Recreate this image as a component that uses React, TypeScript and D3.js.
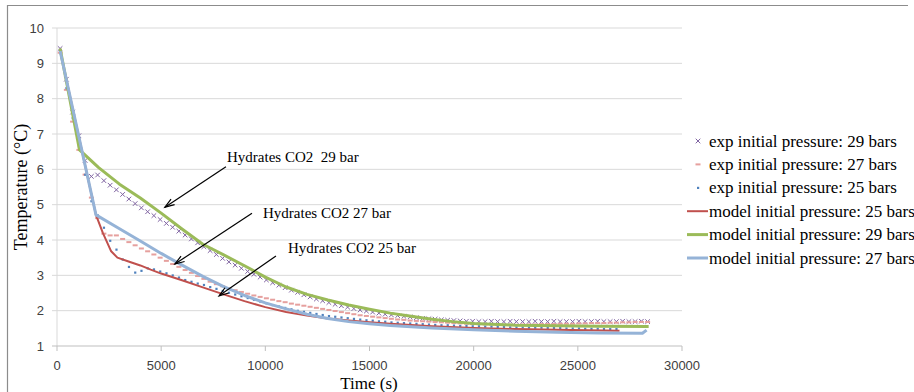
import * as d3 from 'd3'

// experimental series, sampled every 300 s from t = 150 s
const expStart = 150
const expStep = 300

const exp29 = [
  9.42, 8.55, 7.62, 6.95, 6.25, 5.80, 5.84, 5.68, 5.55, 5.42,
  5.29, 5.16, 5.03, 4.91, 4.80, 4.69, 4.58, 4.47, 4.36, 4.25,
  4.14, 4.03, 3.92, 3.81, 3.70, 3.59, 3.48, 3.38, 3.29, 3.20,
  3.11, 3.03, 2.95, 2.87, 2.79, 2.72, 2.65, 2.58, 2.52, 2.45,
  2.39, 2.33, 2.28, 2.23, 2.18, 2.14, 2.10, 2.06, 2.02, 1.99,
  1.96, 1.93, 1.90, 1.88, 1.86, 1.84, 1.82, 1.80, 1.78, 1.77,
  1.76, 1.74, 1.73, 1.72, 1.71, 1.70, 1.70, 1.69, 1.69, 1.70,
  1.69, 1.69, 1.70, 1.69, 1.69, 1.69, 1.70, 1.69, 1.69, 1.70,
  1.69, 1.69, 1.69, 1.70, 1.69, 1.69, 1.70, 1.69, 1.69, 1.69,
  1.70, 1.69, 1.69, 1.70, 1.69
]

const exp27 = [
  9.30, 8.25, 7.35, 6.55, 5.85, 5.20, 4.62, 4.18, 4.13, 4.13,
  4.03, 3.94, 3.85, 3.76, 3.68, 3.59, 3.50, 3.41, 3.32, 3.24,
  3.15, 3.07, 2.98, 2.90, 2.82, 2.75, 2.69, 2.63, 2.58, 2.53,
  2.48, 2.43, 2.39, 2.35, 2.31, 2.27, 2.24, 2.20, 2.17, 2.14,
  2.11, 2.08, 2.05, 2.02, 1.99, 1.96, 1.93, 1.90, 1.87, 1.85,
  1.83, 1.81, 1.79, 1.77, 1.75, 1.74, 1.72, 1.71, 1.70, 1.69,
  1.68, 1.67, 1.66, 1.65, 1.64, 1.63, 1.62, 1.62, 1.61, 1.61,
  1.60, 1.60, 1.60, 1.60, 1.61, 1.61, 1.61, 1.62, 1.62, 1.62,
  1.63, 1.63, 1.63, 1.64, 1.64, 1.65, 1.65, 1.65, 1.66, 1.66,
  1.67, 1.67, 1.68, 1.68, 1.68
]

const exp25 = [
  9.35, 8.30, 7.45, 6.65, 5.85, 5.10, 4.70, 4.35, 3.98, 3.73,
  3.45, 3.24, 3.08, 3.13, 3.20, 3.17, 3.11, 3.06, 3.00, 2.94,
  2.87, 2.82, 2.77, 2.73, 2.67, 2.62, 2.56, 2.51, 2.46, 2.41,
  2.36, 2.31, 2.26, 2.21, 2.16, 2.12, 2.08, 2.04, 2.00, 1.97,
  1.94, 1.91, 1.88, 1.85, 1.83, 1.81, 1.79, 1.77, 1.75, 1.73,
  1.72, 1.70, 1.69, 1.67, 1.66, 1.65, 1.64, 1.63, 1.62, 1.61,
  1.60, 1.59, 1.59, 1.58, 1.57, 1.57, 1.56, 1.56, 1.55, 1.55,
  1.54, 1.54, 1.53, 1.53, 1.53, 1.52, 1.52, 1.52, 1.51, 1.51,
  1.51, 1.50, 1.50, 1.50, 1.49, 1.49, 1.49, 1.48, 1.48, 1.48
]

// model curves, [time (s), temperature (°C)]
const model25: [number, number][] = [
  [150, 9.35], [1870, 4.71], [2200, 4.2], [2600, 3.68], [2900, 3.5], [3400, 3.4],
  [4000, 3.28], [4500, 3.16], [5000, 3.05], [6000, 2.86], [7000, 2.66], [8000, 2.46],
  [9000, 2.27], [10000, 2.1], [11000, 1.96], [12000, 1.86], [13000, 1.78], [14000, 1.72],
  [15000, 1.67], [16000, 1.63], [18000, 1.56], [20000, 1.51], [22000, 1.48], [24000, 1.46],
  [27000, 1.43]
]

const model29: [number, number][] = [
  [150, 9.42], [1080, 6.55], [2000, 6.05], [3000, 5.58], [4000, 5.19], [5000, 4.76],
  [6000, 4.31], [7000, 3.88], [8000, 3.58], [9000, 3.27], [10000, 2.95], [11000, 2.67],
  [12000, 2.46], [13000, 2.3], [14000, 2.16], [15000, 2.04], [16000, 1.93], [17000, 1.84],
  [18000, 1.76], [19000, 1.69], [20000, 1.64], [22000, 1.59], [24000, 1.57], [26000, 1.56],
  [28400, 1.55]
]

const model27: [number, number][] = [
  [150, 9.35], [1870, 4.71], [3000, 4.32], [4000, 3.97], [5000, 3.62], [6000, 3.29],
  [7000, 2.97], [8000, 2.68], [9000, 2.43], [10000, 2.22], [11000, 2.05], [12000, 1.9],
  [13000, 1.78], [14000, 1.69], [15000, 1.63], [16000, 1.58], [18000, 1.51], [20000, 1.46],
  [22000, 1.42], [24000, 1.39], [26000, 1.37], [28100, 1.36], [28300, 1.45]
]

const xTicks = [0, 5000, 10000, 15000, 20000, 25000, 30000]
const yTicks = [1, 2, 3, 4, 5, 6, 7, 8, 9, 10]

const legendLabels = [
  'exp initial pressure: 29 bars',
  'exp initial pressure: 27 bars',
  'exp initial pressure: 25 bars',
  'model initial pressure: 25 bars',
  'model initial pressure: 29 bars',
  'model initial pressure: 27 bars'
]

// annotation: label position and arrow from/to, in data units
const notes = [
  { label: 'Hydrates CO2  29 bar', at: [8160, 6.35], from: [8110, 6.07], to: [5180, 4.93] },
  { label: 'Hydrates CO2 27 bar', at: [9890, 4.76], from: [9360, 4.76], to: [5660, 3.32] },
  { label: 'Hydrates CO2 25 bar', at: [11090, 3.77], from: [10510, 3.55], to: [7780, 2.42] }
]

const C = {
  purple: '#8064A2',
  pink: '#E6A09E',
  blueDot: '#4F81BD',
  red: '#C0504D',
  green: '#9BBB59',
  lightBlue: '#95B3D7'
}

const sans = '"Liberation Sans", Arial, sans-serif'
const serif = '"Liberation Serif", "Times New Roman", serif'

function XMark({ x, y, c }: { x: number; y: number; c: string }) {
  const s = 2.3
  return <path d={`M${x - s},${y - s}L${x + s},${y + s}M${x - s},${y + s}L${x + s},${y - s}`} stroke={c} strokeWidth={1} />
}

function Dash({ x, y, c }: { x: number; y: number; c: string }) {
  return <rect x={x - 2.5} y={y - 1} width={5} height={2} fill={c} />
}

function Dot({ x, y, c }: { x: number; y: number; c: string }) {
  return <rect x={x - 1} y={y - 1} width={2.2} height={2.2} fill={c} />
}

function Arrow({ x1, y1, x2, y2 }: { x1: number; y1: number; x2: number; y2: number }) {
  const a = Math.atan2(y2 - y1, x2 - x1)
  const len = 10
  const spread = 0.33
  const p1 = [x2 - len * Math.cos(a - spread), y2 - len * Math.sin(a - spread)]
  const p2 = [x2 - len * Math.cos(a + spread), y2 - len * Math.sin(a + spread)]
  return (
    <g stroke="#000" strokeWidth={1.2} fill="none">
      <line x1={x1} y1={y1} x2={x2} y2={y2} />
      <polyline points={`${p1[0]},${p1[1]} ${x2},${y2} ${p2[0]},${p2[1]}`} />
    </g>
  )
}

export default function App() {
  const width = 914
  const height = 392

  const x = d3.scaleLinear().domain([0, 30000]).range([57, 682])
  const y = d3.scaleLinear().domain([1, 10]).range([346, 28])

  const line = d3.line<[number, number]>().x(d => x(d[0])).y(d => y(d[1]))

  const expPts = (vals: number[]) => vals.map((v, i) => [expStart + i * expStep, v] as [number, number])

  const legendY = (i: number) => 141 + i * 23.4
  const legendMarkX = 698

  return (
    <svg width={width} height={height} style={{ position: 'absolute', left: 0, top: 0, background: '#fff' }}>
      {/* outer chart border */}
      <path d="M7.5,392V5.5H908" fill="none" stroke="#8c8c8c" strokeWidth={1.2} />

      {/* gridlines */}
      {yTicks.slice(1).map(t => (
        <line key={t} x1={x(0) - 5} x2={x(30000)} y1={y(t)} y2={y(t)} stroke="#d9d9d9" strokeWidth={1} />
      ))}
      <line x1={x(0)} x2={x(0)} y1={y(10)} y2={y(1)} stroke="#d9d9d9" strokeWidth={1} />
      <line x1={x(0) - 5} x2={x(30000)} y1={y(1)} y2={y(1)} stroke="#bfbfbf" strokeWidth={1} />
      {xTicks.map(t => (
        <line key={t} x1={x(t)} x2={x(t)} y1={y(1)} y2={y(1) + 5} stroke="#bfbfbf" strokeWidth={1} />
      ))}

      {/* tick labels */}
      {yTicks.map(t => (
        <text key={t} x={44} y={y(t)} dy="0.35em" textAnchor="end" fontFamily={sans} fontSize={13} fill="#404040">
          {t}
        </text>
      ))}
      {xTicks.map(t => (
        <text key={t} x={x(t)} y={y(1) + 19} dy="0.35em" textAnchor="middle" fontFamily={sans} fontSize={13} fill="#404040">
          {t}
        </text>
      ))}

      {/* axis titles */}
      <text x={369} y={389} textAnchor="middle" fontFamily={serif} fontSize={17} fill="#000">Time (s)</text>
      <text transform="translate(27,187) rotate(-90)" textAnchor="middle" fontFamily={serif} fontSize={18} fill="#000">
        Temperature (°C)
      </text>

      {/* experimental series */}
      <g>
        {expPts(exp29).map((d, i) => <XMark key={i} x={x(d[0])} y={y(d[1])} c={C.purple} />)}
      </g>
      <g>
        {expPts(exp27).map((d, i) => <Dash key={i} x={x(d[0])} y={y(d[1])} c={C.pink} />)}
      </g>
      <g>
        {expPts(exp25).map((d, i) => <Dot key={i} x={x(d[0])} y={y(d[1])} c={C.blueDot} />)}
      </g>

      {/* model series */}
      <path d={line(model25) ?? ''} fill="none" stroke={C.red} strokeWidth={2} strokeLinejoin="round" />
      <path d={line(model29) ?? ''} fill="none" stroke={C.green} strokeWidth={3} strokeLinejoin="round" />
      <path d={line(model27) ?? ''} fill="none" stroke={C.lightBlue} strokeWidth={3} strokeLinejoin="round" />

      {/* annotations */}
      {notes.map(n => (
        <g key={n.label}>
          <text x={x(n.at[0])} y={y(n.at[1])} dy="0.35em" fontFamily={serif} fontSize={15} fill="#000" style={{ whiteSpace: 'pre' }}>
            {n.label}
          </text>
          <Arrow x1={x(n.from[0])} y1={y(n.from[1])} x2={x(n.to[0])} y2={y(n.to[1])} />
        </g>
      ))}

      {/* legend */}
      {legendLabels.map((lab, i) => {
        const ly = legendY(i)
        let mark = null
        if (i === 0) mark = <XMark x={legendMarkX} y={ly} c={C.purple} />
        else if (i === 1) mark = <Dash x={legendMarkX} y={ly} c={C.pink} />
        else if (i === 2) mark = <Dot x={legendMarkX} y={ly} c={C.blueDot} />
        else {
          const col = i === 3 ? C.red : i === 4 ? C.green : C.lightBlue
          mark = <line x1={687} x2={708} y1={ly} y2={ly} stroke={col} strokeWidth={i === 3 ? 2 : 3} />
        }
        return (
          <g key={lab}>
            {mark}
            <text x={709} y={ly} dy="0.33em" fontFamily={serif} fontSize={17} fill="#000">{lab}</text>
          </g>
        )
      })}
    </svg>
  )
}
